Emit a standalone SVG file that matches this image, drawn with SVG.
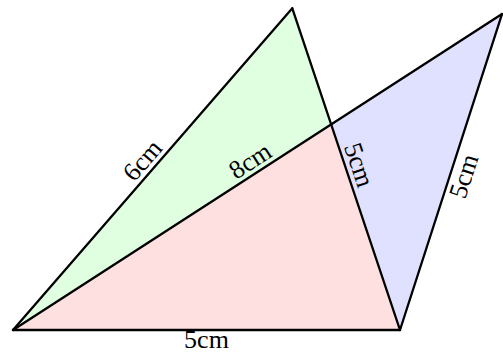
<svg xmlns="http://www.w3.org/2000/svg" width="503" height="354" viewBox="0 0 503 354">
<style>
.edge{fill:none;stroke:#000;stroke-width:2.3;stroke-linecap:round;stroke-linejoin:round}
.lbl{font-family:"Liberation Serif","DejaVu Serif",serif;font-size:26px;fill:#000;text-anchor:middle}
</style>
<rect width="503" height="354" fill="#fff"/>
<g id="regions">
<polygon id="green" points="13,330 292.3,8.3 331.2,124.4" fill="#e0ffe0"/>
<polygon id="red" points="13,330 331.2,124.4 400,330" fill="#ffe0e0"/>
<polygon id="blue" points="331.2,124.4 502,14 400,330" fill="#e0e0ff"/>
</g>
<g id="connectors">
<line class="edge" x1="13" y1="330" x2="292.3" y2="8.3"/>
<line class="edge" x1="292.3" y1="8.3" x2="400" y2="330"/>
<line class="edge" x1="13" y1="330" x2="502" y2="14"/>
<line class="edge" x1="502" y1="14" x2="400" y2="330"/>
<line class="edge" x1="13" y1="330" x2="400" y2="330"/>
</g>
<g id="labels">
<text class="lbl" transform="translate(152.7,169.2) rotate(-49.04)" y="-5">6cm</text>
<text class="lbl" transform="translate(257.5,172) rotate(-32.87)" y="-5">8cm</text>
<text class="lbl" transform="translate(346.2,169.2) rotate(71.5)" y="-5">5cm</text>
<text class="lbl" transform="translate(451,172) rotate(-72.1)" y="22">5cm</text>
<text class="lbl" x="206.5" y="348">5cm</text>
</g>
</svg>
